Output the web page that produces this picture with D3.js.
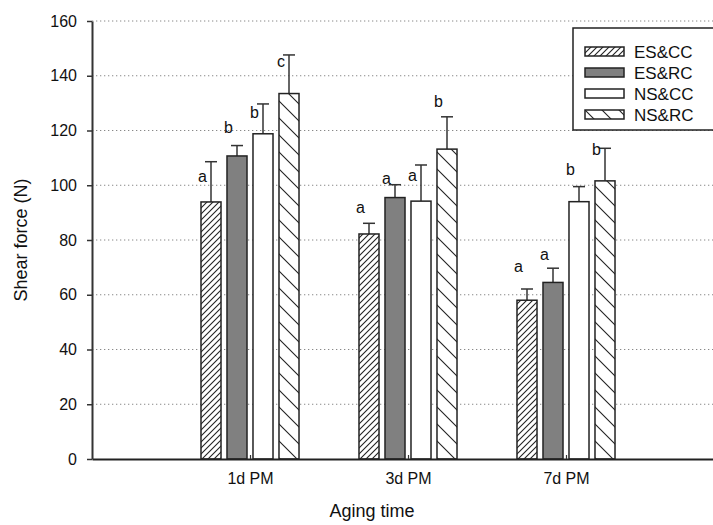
<!DOCTYPE html>
<html>
<head>
<meta charset="utf-8">
<script src="https://cdn.jsdelivr.net/npm/d3@7"></script>
<style>
  body { margin: 0; background: #fff; }
  text { font-family: Arial, "Liberation Sans", sans-serif; fill: #111; }
</style>
</head>
<body>
<div id="chart"></div>
<script>
const categories = ["1d PM", "3d PM", "7d PM"];
const series = ["ES&CC", "ES&RC", "NS&CC", "NS&RC"];
const yTicks = [0, 20, 40, 60, 80, 100, 120, 140, 160];

// mean values, one array per series (1d, 3d, 7d)
const esCC = [93.9, 82.2, 58.0];
const esRC = [110.7, 95.5, 64.5];
const nsCC = [118.8, 94.2, 94.0];
const nsRC = [133.5, 113.2, 101.6];

// upper error bar ends
const esCCErr = [108.6, 86.1, 62.1];
const esRCErr = [114.5, 100.2, 69.7];
const nsCCErr = [129.7, 107.4, 99.5];
const nsRCErr = [147.6, 125.0, 113.5];

// significance letters and the value where each letter sits
const esCCLetter = ["a", "a", "a"];
const esRCLetter = ["b", "a", "a"];
const nsCCLetter = ["b", "a", "b"];
const nsRCLetter = ["c", "b", "b"];
const esCCLetterY = [101.2, 89.9, 68.3];
const esRCLetterY = [119.1, 100.5, 72.7];
const nsCCLetterY = [124.6, 101.6, 103.7];
const nsRCLetterY = [143.2, 128.6, 111.0];

const means = [esCC, esRC, nsCC, nsRC];
const errs = [esCCErr, esRCErr, nsCCErr, nsRCErr];
const letters = [esCCLetter, esRCLetter, nsCCLetter, nsRCLetter];
const letterYs = [esCCLetterY, esRCLetterY, nsCCLetterY, nsRCLetterY];

const fills = ["url(#hatchDense)", "#808080", "#ffffff", "url(#hatchSparse)"];

const totalW = 713, totalH = 525;
const margin = { top: 21, right: -11, bottom: 66, left: 92 };
const width = totalW - margin.left - margin.right;
const height = totalH - margin.top - margin.bottom;

const root = d3.select("#chart")
  .append("svg")
  .attr("width", totalW)
  .attr("height", totalH);

const defs = root.append("defs");

function addHatch(id, size, forward) {
  const p = defs.append("pattern")
    .attr("id", id)
    .attr("patternUnits", "userSpaceOnUse")
    .attr("width", size)
    .attr("height", size);
  p.append("rect").attr("width", size).attr("height", size).attr("fill", "#fff");
  const s = size;
  const d = forward
    ? `M0,${s} L${s},0 M-1,1 L1,-1 M${s - 1},${s + 1} L${s + 1},${s - 1}`
    : `M0,0 L${s},${s} M-1,${s - 1} L1,${s + 1} M${s - 1},-1 L${s + 1},1`;
  p.append("path").attr("d", d).attr("stroke", "#222").attr("stroke-width", 1.1);
}
addHatch("hatchDense", 6, true);
addHatch("hatchSparse", 17, false);

const svg = root.append("g")
  .attr("transform", `translate(${margin.left},${margin.top})`);

const x = d3.scaleLinear()
  .domain([0, categories.length + 1])
  .range([0, width]);

const inner = d3.scaleBand()
  .domain(series)
  .range([-52, 52])
  .paddingInner(0.23)
  .paddingOuter(0.115);

const y = d3.scaleLinear()
  .domain([0, 160])
  .range([height, 0]);

// dotted grid
svg.append("g")
  .selectAll("line")
  .data(yTicks.filter(d => d > 0))
  .enter()
  .append("line")
  .attr("x1", 0)
  .attr("x2", width)
  .attr("y1", d => y(d))
  .attr("y2", d => y(d))
  .attr("stroke", "#888")
  .attr("stroke-width", 1)
  .attr("stroke-dasharray", "1.3,2.7");

// bars, error bars and letters
const groups = svg.selectAll(".grp")
  .data(categories)
  .enter()
  .append("g")
  .attr("class", "grp")
  .attr("transform", (d, i) => `translate(${x(i + 1)},0)`);

groups.each(function (cat, ci) {
  const g = d3.select(this);
  series.forEach((s, si) => {
    const cx = inner(s) + inner.bandwidth() / 2;
    const v = means[si][ci];
    const e = errs[si][ci];
    g.append("line")
      .attr("x1", cx).attr("x2", cx)
      .attr("y1", y(v)).attr("y2", y(e))
      .attr("stroke", "#333").attr("stroke-width", 1.5);
    g.append("line")
      .attr("x1", cx - 6).attr("x2", cx + 6)
      .attr("y1", y(e)).attr("y2", y(e))
      .attr("stroke", "#333").attr("stroke-width", 1.5);
    g.append("rect")
      .attr("x", inner(s))
      .attr("y", y(v))
      .attr("width", inner.bandwidth())
      .attr("height", height - y(v))
      .attr("fill", fills[si])
      .attr("stroke", "#222")
      .attr("stroke-width", 1.5);
    g.append("text")
      .attr("x", cx - 4)
      .attr("y", y(letterYs[si][ci]))
      .attr("text-anchor", "end")
      .style("font-size", "16px")
      .text(letters[si][ci]);
  });
});

// x axis: ticks point inward
const xAxis = svg.append("g")
  .attr("transform", `translate(0,${height})`)
  .call(d3.axisBottom(x)
    .tickValues(categories.map((d, i) => i + 1))
    .tickFormat((d) => categories[d - 1])
    .tickSizeInner(-4)
    .tickSizeOuter(0)
    .tickPadding(14));
xAxis.select(".domain").attr("stroke", "#222").attr("stroke-width", 2);
xAxis.selectAll(".tick line").attr("stroke", "#333").attr("stroke-width", 1.2);
xAxis.selectAll("text").style("font-size", "16px").attr("fill", "#111");

// y axis
const yAxis = svg.append("g")
  .call(d3.axisLeft(y)
    .tickValues(yTicks)
    .tickSizeInner(5)
    .tickSizeOuter(0)
    .tickPadding(10));
yAxis.select(".domain").attr("stroke", "#333").attr("stroke-width", 2);
yAxis.selectAll(".tick line").attr("stroke", "#333").attr("stroke-width", 1.5);
yAxis.selectAll("text").style("font-size", "16px").attr("fill", "#111");

// axis titles
root.append("text")
  .attr("transform", `translate(27,${margin.top + height / 2}) rotate(-90)`)
  .attr("text-anchor", "middle")
  .style("font-size", "18px")
  .text("Shear force (N)");

root.append("text")
  .attr("x", 372)
  .attr("y", 517)
  .attr("text-anchor", "middle")
  .style("font-size", "18px")
  .text("Aging time");

// legend
const legend = root.append("g").attr("transform", "translate(573,28)");
legend.append("rect")
  .attr("width", 150)
  .attr("height", 102)
  .attr("fill", "#fff")
  .attr("stroke", "#222")
  .attr("stroke-width", 1.5);

const item = legend.selectAll(".item")
  .data(series)
  .enter()
  .append("g")
  .attr("class", "item")
  .attr("transform", (d, i) => `translate(12,${19 + i * 21})`);

item.append("rect")
  .attr("width", 39)
  .attr("height", 9)
  .attr("fill", (d, i) => fills[i])
  .attr("stroke", "#222")
  .attr("stroke-width", 1.5);

item.append("text")
  .attr("x", 49)
  .attr("y", 5)
  .attr("dy", "0.35em")
  .style("font-size", "17px")
  .text(d => d);
</script>
</body>
</html>
